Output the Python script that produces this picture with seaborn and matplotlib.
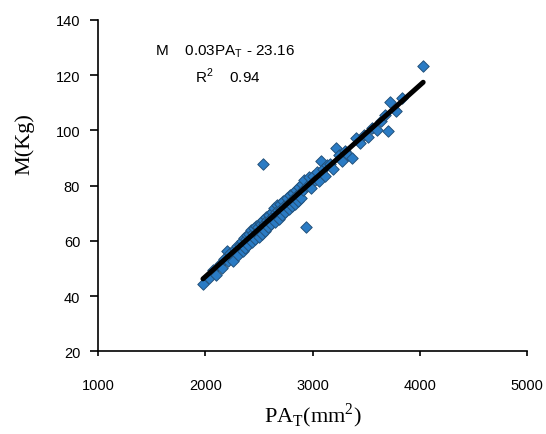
import numpy as np
import pandas as pd
import matplotlib.pyplot as plt
import seaborn as sns

# PA_T (mm^2) and body mass M (kg)
pa = [1977, 2031, 2070, 2098, 2136, 2155, 2174, 2198, 2213, 2232, 2258, 2279,
      2298, 2308, 2318, 2337, 2346, 2356, 2365, 2375, 2384, 2394, 2403, 2413,
      2422, 2432, 2441, 2451, 2460, 2470, 2480, 2489, 2499, 2508, 2518, 2527,
      2536, 2537, 2547, 2556, 2566, 2575, 2585, 2594, 2604, 2613, 2623, 2632,
      2642, 2652, 2661, 2671, 2680, 2690, 2699, 2709, 2718, 2728, 2737, 2747,
      2757, 2766, 2776, 2785, 2795, 2804, 2814, 2823, 2833, 2842, 2852, 2862,
      2871, 2881, 2890, 2900, 2909, 2919, 2937, 2947, 2967, 2986, 3005, 3024,
      3043, 3062, 3078, 3100, 3119, 3138, 3158, 3186, 3217, 3243, 3272, 3301,
      3329, 3366, 3403, 3444, 3482, 3520, 3558, 3597, 3635, 3676, 3706, 3724,
      3778, 3835, 4032]
mass = [44.3, 46.5, 49.5, 47.8, 51.5, 50.2, 53.5, 56.4, 52.8, 55.5, 52.6, 57.0,
        58.0, 55.0, 58.5, 60.0, 56.5, 61.0, 57.5, 60.5, 62.0, 58.5, 62.5, 60.5,
        64.0, 59.5, 63.0, 64.5, 60.5, 65.5, 63.0, 65.0, 61.5, 66.5, 66.0, 62.5,
        87.8, 67.5, 66.0, 63.5, 68.5, 67.5, 65.0, 69.5, 68.0, 66.0, 70.5, 69.0,
        72.0, 67.0, 70.5, 73.0, 71.0, 68.0, 73.5, 71.5, 69.5, 74.5, 72.5, 70.5,
        75.5, 73.5, 71.5, 76.5, 74.5, 72.5, 77.5, 75.5, 73.5, 78.5, 76.5, 74.5,
        79.5, 77.5, 75.5, 80.5, 78.5, 82.0, 64.9, 80.0, 83.0, 79.0, 83.5, 82.0,
        85.0, 81.5, 88.9, 86.0, 83.5, 87.5, 88.0, 86.0, 93.6, 91.0, 89.0, 92.5,
        91.0, 90.0, 97.2, 95.5, 98.5, 97.5, 101.0, 100.0, 103.5, 105.5, 99.8, 110.3,
        107.0, 111.7, 123.3]

df = pd.DataFrame({'PA': pa, 'M': mass})

sns.set_style('white')
plt.rcParams['font.family'] = ['Liberation Sans', 'DejaVu Sans']

fig = plt.figure(figsize=(5.46, 4.35), dpi=100)
ax = fig.add_axes([0.180, 0.190, 0.785, 0.762])

sns.scatterplot(data=df, x='PA', y='M', marker='D', s=34, color='#2a7bc4',
                edgecolor='#23527c', linewidth=0.7, ax=ax, zorder=2)
sns.regplot(data=df, x='PA', y='M', scatter=False, ci=None, truncate=True,
            line_kws=dict(color='black', lw=3.6, solid_capstyle='round'),
            ax=ax)

ax.set_xlim(1000, 5000)
ax.set_ylim(20, 140)
ax.set_xticks(np.arange(1000, 5001, 1000))
ax.set_yticks(np.arange(20, 141, 20))
for s in ['top', 'right']:
    ax.spines[s].set_visible(False)
for s in ['left', 'bottom']:
    ax.spines[s].set_color('black')
    ax.spines[s].set_linewidth(1.2)
ax.tick_params(axis='y', direction='out', length=6, width=1.2, pad=7,
               labelsize=10.5, colors='black', left=True)
ax.tick_params(axis='x', direction='out', length=3.5, width=1.2, pad=16,
               labelsize=10.5, colors='black', bottom=True)

ax.set_xlabel(r'PA$_\mathregular{T}$(mm$^\mathregular{2}$)',
              family='Liberation Serif', fontsize=16, labelpad=6, color='black')
ax.set_ylabel('')
fig.text(0.045, 0.668, 'M(Kg)', family='Liberation Serif', fontsize=16,
         rotation=90, ha='center', va='center', color='black')

ax.text(0.132, 0.906, r'M    0.03PA$_\mathregular{T}$ - 23.16',
        transform=ax.transAxes, fontsize=11, va='center', ha='left', color='black')
ax.text(0.225, 0.834, r'R$^\mathregular{2}$    0.94',
        transform=ax.transAxes, fontsize=11, va='center', ha='left', color='black')

fig.savefig('out.png', dpi=100)
